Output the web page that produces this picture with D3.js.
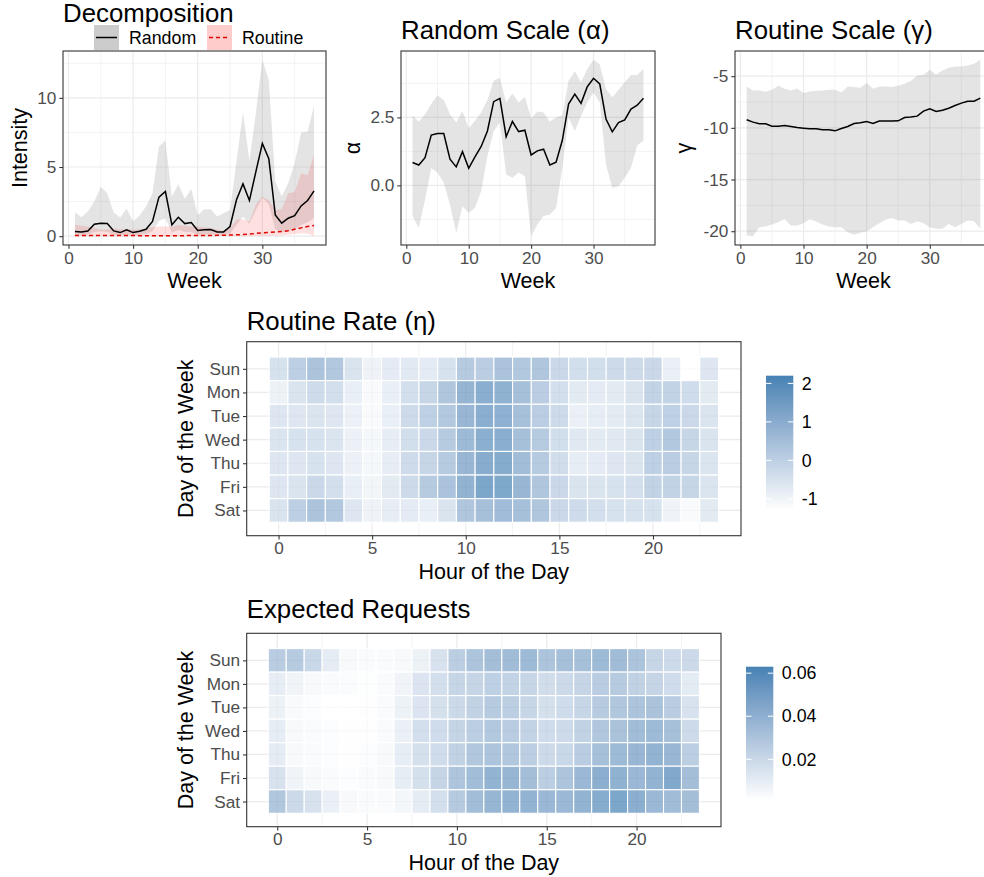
<!DOCTYPE html>
<html><head><meta charset="utf-8">
<script src="https://cdn.jsdelivr.net/npm/d3@7"></script>
<style>body{margin:0;background:#fff}svg text{font-family:"Liberation Sans",Arial,sans-serif}</style>
</head><body><svg id="c" width="984" height="877"></svg>
<script>
// ---------------- DATA ----------------
const weeks = [1,2,3,4,5,6,7,8,9,10,11,12,13,14,15,16,17,18,19,20,21,22,23,24,25,26,27,28,29,30,31,32,33,34,35,36,37,38];
const weekTicks = [0,10,20,30];

const randomMean  = [0.33,0.31,0.38,0.87,0.94,0.91,0.38,0.26,0.46,0.26,0.36,0.5,1.06,2.82,3.23,0.82,1.37,0.91,0.99,0.41,0.46,0.48,0.31,0.31,0.7,2.63,3.78,2.58,4.67,6.7,5.61,1.54,0.94,1.3,1.49,2.19,2.58,3.27];
const randomUpper = [1.73,1.37,1.78,2.5,3.58,3.1,1.71,1.35,2.0,1.06,1.49,2.14,3.11,6.48,6.91,2.87,3.76,2.7,3.42,1.54,1.95,1.95,1.42,1.66,1.9,5.4,8.96,5.44,8.93,12.75,11.3,3.95,2.87,3.83,5.27,7.49,7.56,9.42];
const randomLower = [0.1,0.1,0.12,0.3,0.35,0.3,0.1,0.08,0.12,0.08,0.1,0.15,0.35,1.1,1.3,0.25,0.45,0.3,0.3,0.1,0.12,0.12,0.08,0.08,0.2,0.8,1.4,0.9,1.9,2.8,2.3,0.5,0.3,0.4,0.5,0.8,1.0,1.3];
const routineMean  = [0.05,0.05,0.05,0.05,0.05,0.05,0.05,0.05,0.05,0.05,0.04,0.04,0.04,0.04,0.04,0.04,0.04,0.04,0.05,0.05,0.05,0.05,0.06,0.07,0.08,0.1,0.12,0.15,0.2,0.24,0.27,0.3,0.33,0.4,0.5,0.6,0.7,0.78];
const routineUpper = [0.82,0.75,0.68,0.6,0.46,0.5,0.55,0.5,0.5,0.46,0.5,0.55,0.65,0.7,0.7,0.7,0.8,0.75,0.7,0.7,0.65,0.6,0.5,0.34,0.58,1.2,1.23,1.06,2.3,2.87,2.6,1.9,1.95,3.1,3.2,4.55,4.4,5.95];
const routineLower = [0,0,0,0,0,0,0,0,0,0,0,0,0,0,0,0,0,0,0,0,0,0,0,0,0,0,0,0,0.01,0.02,0.02,0.03,0.05,0.1,0.15,0.22,0.2,0.0];
const intensityTicks = [0,5,10];

const alphaMean  = [0.84,0.75,1.02,1.85,1.91,1.91,0.96,0.68,1.24,0.63,1.05,1.43,2.0,3.08,3.2,1.79,2.35,1.98,2.03,1.12,1.27,1.33,0.75,0.85,1.66,2.99,3.36,3.02,3.63,3.94,3.73,2.44,1.97,2.31,2.41,2.81,2.95,3.21];
const alphaUpper = [2.58,2.34,2.62,2.99,3.32,3.14,2.62,2.31,2.74,2.1,2.38,2.68,3.14,3.85,3.95,3.05,3.38,3.05,3.26,2.46,2.72,2.68,2.35,2.5,2.58,3.85,4.2,3.79,4.28,4.62,4.45,3.55,3.24,3.51,3.79,4.06,4.06,4.28];
const alphaLower = [-1.13,-1.57,-0.52,0.63,0.47,0.1,-0.7,-1.75,-0.77,-1.01,-0.83,-0.21,1.08,2.0,2.31,0.41,0.28,0.47,0.34,-1.87,-1.44,-1.13,-1.07,-0.83,0.65,2.5,2.0,2.56,3.05,3.42,3.05,0.77,-0.09,-0.03,0.28,0.65,1.47,1.64];
const alphaTicks = [0, 2.5];

const gammaMean  = [-9.22,-9.45,-9.61,-9.61,-9.84,-9.84,-9.77,-9.87,-9.96,-10.03,-10.09,-10.09,-10.19,-10.19,-10.29,-10.06,-9.87,-9.58,-9.51,-9.38,-9.58,-9.35,-9.35,-9.35,-9.32,-9.0,-8.96,-8.87,-8.38,-8.16,-8.42,-8.29,-8.1,-7.84,-7.61,-7.42,-7.42,-7.13];
const gammaUpper = [-6.0,-6.38,-6.38,-6.51,-6.32,-5.94,-6.22,-6.38,-6.19,-6.64,-6.48,-6.42,-6.38,-6.32,-6.32,-6.58,-6.0,-6.06,-6.13,-5.67,-6.22,-6.0,-6.0,-6.06,-5.94,-5.74,-5.48,-4.93,-4.87,-4.38,-4.84,-4.45,-4.19,-4.06,-4.06,-3.96,-3.8,-3.42];
const gammaLower = [-20.42,-20.48,-19.61,-19.55,-19.35,-19.13,-18.81,-19.45,-19.45,-19.22,-18.84,-19.06,-19.35,-19.55,-19.61,-19.61,-20.09,-20.35,-20.16,-20.03,-19.61,-19.22,-18.9,-18.71,-18.97,-18.97,-19.29,-19.03,-19.22,-19.61,-19.77,-19.77,-19.29,-19.61,-19.29,-18.97,-19.03,-19.77];
const gammaTicks = [-20,-15,-10,-5];

const days = ["Sun","Mon","Tue","Wed","Thu","Fri","Sat"];
const hours = [0,1,2,3,4,5,6,7,8,9,10,11,12,13,14,15,16,17,18,19,20,21,22,23];
const hourTicks = [0,5,10,15,20];

const etaSun = [-0.16,0.55,1.06,0.84,-0.24,-0.83,-0.53,-0.45,-0.53,-0.16,0.73,0.63,1.03,0.84,0.92,0.19,-0.02,-0.02,0.11,0.14,0.19,-0.72,-1.29,-0.37];
const etaMon = [-0.78,-0.24,0.09,-0.08,-0.67,-1.1,-0.67,-0.08,0.3,0.92,1.6,1.9,1.76,1.19,0.63,-0.08,-0.48,-0.53,-0.48,-0.24,0.41,0.41,0.06,-0.48];
const etaTue = [-0.37,-0.37,-0.24,-0.37,-0.75,-1.1,-0.67,0.14,0.52,0.84,1.55,1.92,1.79,1.19,0.63,0.11,-0.72,-0.59,-0.48,-0.29,0.3,0.52,0.19,-0.24];
const etaWed = [-0.29,-0.16,-0.16,-0.29,-0.75,-1.02,-0.59,-0.02,0.19,0.73,1.44,1.87,1.9,1.19,0.73,-0.02,-0.43,-0.48,-0.43,-0.24,0.52,0.84,0.3,-0.24];
const etaThu = [-0.37,-0.37,-0.16,-0.37,-0.75,-1.02,-0.59,0.09,0.3,0.73,1.55,1.98,2.03,1.28,0.73,0.01,-0.59,-0.53,-0.37,-0.24,0.52,0.63,0.3,-0.29];
const etaFri = [-0.37,-0.24,0.19,-0.08,-0.67,-0.94,-0.48,0.14,0.73,1.03,1.71,2.2,2.15,1.55,0.92,0.19,-0.24,-0.24,-0.16,-0.08,0.41,0.41,0.3,-0.29];
const etaSat = [-0.24,0.55,1.06,0.84,-0.37,-0.83,-0.59,-0.53,-0.67,-0.24,0.92,1.19,1.33,1.19,0.92,0.19,0.09,-0.08,-0.16,-0.16,-0.16,-0.83,-1.1,-0.48];

const reqSun = [0.036,0.037,0.028,0.014,0.0054,0.0035,0.0035,0.0054,0.0102,0.021,0.035,0.042,0.046,0.048,0.049,0.042,0.045,0.045,0.049,0.048,0.042,0.029,0.026,0.027];
const reqMon = [0.013,0.0088,0.0054,0.004,0.003,0.0021,0.0035,0.0088,0.019,0.023,0.029,0.030,0.033,0.031,0.029,0.024,0.027,0.030,0.036,0.037,0.032,0.030,0.025,0.015];
const reqTue = [0.0102,0.0045,0.0026,0.0011,0.0011,0.0016,0.0035,0.010,0.019,0.022,0.027,0.032,0.037,0.035,0.029,0.022,0.025,0.029,0.037,0.040,0.042,0.043,0.036,0.021];
const reqWed = [0.013,0.0054,0.004,0.0026,0.0016,0.0016,0.004,0.0117,0.023,0.025,0.030,0.035,0.039,0.036,0.031,0.025,0.026,0.032,0.040,0.043,0.047,0.049,0.045,0.026];
const reqThu = [0.014,0.0054,0.0035,0.0026,0.0016,0.0026,0.0054,0.013,0.022,0.025,0.032,0.040,0.042,0.040,0.035,0.026,0.028,0.036,0.045,0.049,0.051,0.054,0.051,0.035];
const reqFri = [0.021,0.0088,0.0054,0.0035,0.0026,0.0035,0.0054,0.013,0.022,0.030,0.041,0.047,0.054,0.052,0.046,0.035,0.042,0.050,0.057,0.055,0.050,0.054,0.062,0.046];
const reqSat = [0.040,0.027,0.021,0.0117,0.0054,0.0035,0.0035,0.0069,0.014,0.023,0.037,0.047,0.052,0.054,0.054,0.050,0.050,0.054,0.059,0.063,0.057,0.050,0.048,0.046];

const etaRows = [etaSun, etaMon, etaTue, etaWed, etaThu, etaFri, etaSat];
const reqRows = [reqSun, reqMon, reqTue, reqWed, reqThu, reqFri, reqSat];

// ---------------- STYLE ----------------
const GRID = "#EBEBEB", BORDER = "#333333", TICKTXT = "#4D4D4D";
const TITLE_FS = 25.8, AXT_FS = 21.5, TICK_FS = 17.2, LEG_FS = 17.8;
const svg = d3.select("#c");
const fmtPlain = d => String(d).replace("\u2212", "-");

function styleAxis(sel) {
  sel.select(".domain").remove();
  sel.selectAll(".tick line").attr("stroke", BORDER).attr("stroke-width", 1.07);
  sel.selectAll(".tick text").attr("fill", TICKTXT).attr("font-size", TICK_FS);
}

let clipN = 0;
function linePanel(o) {
  const b = o.box;
  const x = d3.scaleLinear().domain([weeks[0] - 1.85, weeks[weeks.length - 1] + 1.85]).range([b.x0, b.x1]);
  const vals = o.bands.flatMap(s => s.lo.concat(s.hi)).concat(o.lines.flatMap(s => s.v));
  const [mn, mx] = d3.extent(vals), pad = (mx - mn) * 0.05;
  const y = d3.scaleLinear().domain([mn - pad, mx + pad]).range([b.y1, b.y0]);
  const g = svg.append("g");
  const id = "clip" + (clipN++);
  g.append("clipPath").attr("id", id).append("rect").attr("x", b.x0).attr("y", b.y0).attr("width", b.x1 - b.x0).attr("height", b.y1 - b.y0);
  const pg = g.append("g").attr("clip-path", `url(#${id})`);
  o.xMinor.forEach(v => pg.append("line").attr("x1", x(v)).attr("x2", x(v)).attr("y1", b.y0).attr("y2", b.y1).attr("stroke", GRID).attr("stroke-width", 0.6));
  o.yMinor.forEach(v => pg.append("line").attr("y1", y(v)).attr("y2", y(v)).attr("x1", b.x0).attr("x2", b.x1).attr("stroke", GRID).attr("stroke-width", 0.6));
  weekTicks.forEach(v => pg.append("line").attr("x1", x(v)).attr("x2", x(v)).attr("y1", b.y0).attr("y2", b.y1).attr("stroke", GRID).attr("stroke-width", 1.2));
  o.yTicks.forEach(v => pg.append("line").attr("y1", y(v)).attr("y2", y(v)).attr("x1", b.x0).attr("x2", b.x1).attr("stroke", GRID).attr("stroke-width", 1.2));
  o.bands.forEach(s => {
    pg.append("path").datum(weeks)
      .attr("d", d3.area().x(w => x(w)).y0((w, i) => y(s.lo[i])).y1((w, i) => y(s.hi[i])))
      .attr("fill", s.fill).attr("fill-opacity", s.op);
  });
  o.lines.forEach(s => {
    pg.append("path").datum(weeks)
      .attr("d", d3.line().x(w => x(w)).y((w, i) => y(s.v[i])))
      .attr("fill", "none").attr("stroke", s.color).attr("stroke-width", 1.5)
      .attr("stroke-dasharray", s.dash || null);
  });
  g.append("rect").attr("x", b.x0).attr("y", b.y0).attr("width", b.x1 - b.x0).attr("height", b.y1 - b.y0)
    .attr("fill", "none").attr("stroke", BORDER).attr("stroke-width", 1.1);
  g.append("g").attr("transform", `translate(0,${b.y1})`)
    .call(d3.axisBottom(x).tickValues(weekTicks).tickSize(3.7).tickPadding(2.9).tickFormat(fmtPlain)).call(styleAxis);
  g.append("g").attr("transform", `translate(${b.x0},0)`)
    .call(d3.axisLeft(y).tickValues(o.yTicks).tickSize(3.7).tickPadding(2.9).tickFormat(o.yFmt)).call(styleAxis);
  g.append("text").attr("x", b.x0).attr("y", o.titleY).attr("font-size", TITLE_FS).attr("fill", "#000").text(o.title);
  g.append("text").attr("x", (b.x0 + b.x1) / 2).attr("y", 288).attr("text-anchor", "middle").attr("font-size", AXT_FS).text("Week");
  g.append("text").attr("transform", `translate(${o.yLabelX},${(b.y0 + b.y1) / 2}) rotate(-90)`).attr("text-anchor", "middle")
    .attr("font-size", AXT_FS).text(o.yLabel);
  return g;
}

// Panel 1: Decomposition
linePanel({
  box: {x0: 63, x1: 326, y0: 51, y1: 245},
  bands: [{lo: randomLower, hi: randomUpper, fill: "#808080", op: 0.21},
          {lo: routineLower, hi: routineUpper, fill: "#FF0000", op: 0.12}],
  lines: [{v: randomMean, color: "#000"}, {v: routineMean, color: "#E00000", dash: "4,3"}],
  yTicks: intensityTicks, yMinor: [2.5, 7.5, 12.5], xMinor: [5, 15, 25, 35],
  yFmt: fmtPlain, yLabel: "Intensity", yLabelX: 27, title: "Decomposition", titleY: 22
});
const leg = svg.append("g");
leg.append("rect").attr("x", 94).attr("y", 25).attr("width", 25).attr("height", 25).attr("fill", "#CCCCCC");
leg.append("line").attr("x1", 96).attr("x2", 117).attr("y1", 37.5).attr("y2", 37.5).attr("stroke", "#000").attr("stroke-width", 1.5);
leg.append("text").attr("x", 129).attr("y", 43.5).attr("font-size", LEG_FS).text("Random");
leg.append("rect").attr("x", 207).attr("y", 25).attr("width", 25).attr("height", 25).attr("fill", "#FFCCCC");
leg.append("line").attr("x1", 209).attr("x2", 230).attr("y1", 37.5).attr("y2", 37.5).attr("stroke", "#E00000").attr("stroke-width", 1.5).attr("stroke-dasharray", "4,3");
leg.append("text").attr("x", 242).attr("y", 43.5).attr("font-size", LEG_FS).text("Routine");

// Panel 2: alpha
linePanel({
  box: {x0: 401, x1: 655, y0: 51, y1: 245},
  bands: [{lo: alphaLower, hi: alphaUpper, fill: "#808080", op: 0.21}],
  lines: [{v: alphaMean, color: "#000"}],
  yTicks: alphaTicks, yMinor: [-1.25, 1.25, 3.75], xMinor: [5, 15, 25, 35],
  yFmt: d3.format(".1f"), yLabel: "α", yLabelX: 360, title: "Random Scale (α)", titleY: 39
});

// Panel 3: gamma
linePanel({
  box: {x0: 735, x1: 992, y0: 51, y1: 245},
  bands: [{lo: gammaLower, hi: gammaUpper, fill: "#808080", op: 0.21}],
  lines: [{v: gammaMean, color: "#000"}],
  yTicks: gammaTicks, yMinor: [-17.5, -12.5, -7.5], xMinor: [5, 15, 25, 35],
  yFmt: fmtPlain, yLabel: "γ", yLabelX: 691, title: "Routine Scale (γ)", titleY: 39
});

// ---------------- HEATMAPS ----------------
function heatPanel(o) {
  const b = o.box;
  const x = d3.scaleLinear().domain([-1.7, 24.7]).range([b.x0, b.x1]);
  const y = d3.scaleLinear().domain([-1.15, 7.07]).range([b.y0, b.y1]);
  const vals = o.rows.flat();
  const ext = d3.extent(vals);
  const color = d3.scaleLinear().domain(ext).range(["#FFFFFF", "steelblue"]).interpolate(d3.interpolateLab);
  const g = svg.append("g");
  [2.5, 7.5, 12.5, 17.5, 22.5].forEach(v => g.append("line").attr("x1", x(v)).attr("x2", x(v)).attr("y1", b.y0).attr("y2", b.y1).attr("stroke", GRID).attr("stroke-width", 0.6));
  hourTicks.forEach(v => g.append("line").attr("x1", x(v)).attr("x2", x(v)).attr("y1", b.y0).attr("y2", b.y1).attr("stroke", GRID).attr("stroke-width", 1.2));
  days.forEach((d, i) => g.append("line").attr("y1", y(i)).attr("y2", y(i)).attr("x1", b.x0).attr("x2", b.x1).attr("stroke", GRID).attr("stroke-width", 1.2));
  const cells = [];
  o.rows.forEach((row, i) => row.forEach((v, h) => cells.push({i, h: hours[h], v})));
  g.selectAll("rect.cell").data(cells).enter().append("rect").attr("class", "cell")
    .attr("x", d => x(d.h - 0.5)).attr("width", d => x(d.h + 0.5) - x(d.h - 0.5))
    .attr("y", d => y(d.i - 0.5)).attr("height", d => y(d.i + 0.5) - y(d.i - 0.5))
    .attr("fill", d => color(d.v)).attr("fill-opacity", 0.7)
    .attr("stroke", "#fff").attr("stroke-width", 1.1);
  g.append("rect").attr("x", b.x0).attr("y", b.y0).attr("width", b.x1 - b.x0).attr("height", b.y1 - b.y0)
    .attr("fill", "none").attr("stroke", BORDER).attr("stroke-width", 1.1);
  g.append("g").attr("transform", `translate(0,${b.y1})`)
    .call(d3.axisBottom(x).tickValues(hourTicks).tickSize(3.7).tickPadding(2.9).tickFormat(fmtPlain)).call(styleAxis);
  const yd = d3.scalePoint().domain(days).range([y(0), y(6)]);
  g.append("g").attr("transform", `translate(${b.x0},0)`)
    .call(d3.axisLeft(yd).tickSize(3.7).tickPadding(2.9)).call(styleAxis);
  g.append("text").attr("x", b.x0).attr("y", o.titleY).attr("font-size", TITLE_FS).text(o.title);
  g.append("text").attr("x", (b.x0 + b.x1) / 2).attr("y", o.xLabY).attr("text-anchor", "middle").attr("font-size", AXT_FS).text("Hour of the Day");
  g.append("text").attr("transform", `translate(193,${(b.y0 + b.y1) / 2}) rotate(-90)`).attr("text-anchor", "middle")
    .attr("font-size", AXT_FS).text("Day of the Week");
  const L = o.leg;
  const ly = d3.scaleLinear().domain(ext).range([L.y1, L.y0]);
  const gid = "grad" + (clipN++);
  const grad = svg.append("defs").append("linearGradient").attr("id", gid).attr("x1", 0).attr("x2", 0).attr("y1", 1).attr("y2", 0);
  d3.range(0, 1.0001, 0.05).forEach(t => grad.append("stop").attr("offset", t).attr("stop-color", color(ext[0] + t * (ext[1] - ext[0]))));
  g.append("rect").attr("x", L.x0).attr("y", L.y0).attr("width", L.x1 - L.x0).attr("height", L.y1 - L.y0).attr("fill", `url(#${gid})`);
  const lt = d3.ticks(ext[0], ext[1], o.legTicks);
  lt.forEach(v => {
    const yy = ly(v), w = (L.x1 - L.x0) / 5;
    g.append("line").attr("x1", L.x0).attr("x2", L.x0 + w).attr("y1", yy).attr("y2", yy).attr("stroke", "#fff").attr("stroke-width", 1);
    g.append("line").attr("x1", L.x1 - w).attr("x2", L.x1).attr("y1", yy).attr("y2", yy).attr("stroke", "#fff").attr("stroke-width", 1);
    g.append("text").attr("x", L.x1 + 8.5).attr("y", yy).attr("dy", "0.35em").attr("font-size", LEG_FS).attr("fill", "#000").text(o.legFmt(v));
  });
}

heatPanel({
  box: {x0: 246.7, x1: 741, y0: 341.7, y1: 535.7}, rows: etaRows,
  title: "Routine Rate (η)", titleY: 330, xLabY: 579,
  leg: {x0: 766, x1: 793.3, y0: 375.7, y1: 510}, legTicks: 4, legFmt: fmtPlain
});
heatPanel({
  box: {x0: 246.7, x1: 721, y0: 633.3, y1: 826.7}, rows: reqRows,
  title: "Expected Requests", titleY: 618, xLabY: 870,
  leg: {x0: 746, x1: 773.3, y0: 666.7, y1: 800}, legTicks: 3, legFmt: d3.format(".2f")
});
</script></body></html>
